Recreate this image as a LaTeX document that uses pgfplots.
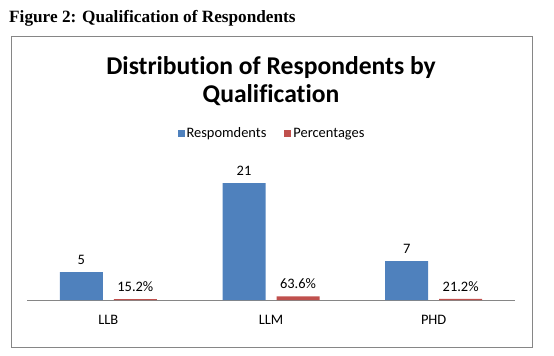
\documentclass[border=0pt]{standalone}
\usepackage{pgfplots}
\pgfplotsset{compat=1.18}
\usepackage{fontspec}
\setmainfont{Carlito}[Ligatures=NoCommon]
\newfontfamily\capfont{Liberation Serif}
\definecolor{cblue}{HTML}{4F81BD}
\definecolor{cred}{HTML}{C0504D}
\definecolor{frame}{HTML}{868686}
\begin{document}
\begin{tikzpicture}[x=1bp,y=1bp]
\useasboundingbox (0,0) rectangle (554,355);
\node[anchor=base west,inner sep=0pt,font=\capfont\bfseries\fontsize{17.3}{19}\selectfont] at (9,333) {Figure 2: Qualification of Respondents};
\draw[frame,line width=1bp] (11,8) rectangle (532,319);
\node[anchor=base,inner sep=0pt,font=\bfseries\fontsize{25.7}{30}\selectfont] at (271,281) {Distribution of Respondents by};
\node[anchor=base,inner sep=0pt,font=\bfseries\fontsize{25.7}{30}\selectfont] at (271,253) {Qualification};
\begin{axis}[
  at={(27bp,55bp)}, anchor=south west,
  scale only axis, width=488bp, height=139bp,
  xmin=-0.5, xmax=2.5, ymin=0, ymax=25,
  axis y line=none,
  axis x line*=bottom,
  x axis line style={frame, line width=0.8bp, -},
  xtick=data, xticklabels={LLB,LLM,PHD},
  major tick length=0pt,
  xticklabel style={font=\fontsize{14.5}{16}\selectfont, yshift=-12bp},
  ybar, bar width=43bp,
  point meta=explicit symbolic,
  nodes near coords,
  nodes near coords style={font=\fontsize{14.5}{16}\selectfont, black, yshift=4bp},
  legend columns=2,
  legend style={draw=none, fill=none, at={(0.502,1.2)}, anchor=center,
    font=\fontsize{14.5}{16}\selectfont, /tikz/every even column/.append style={column sep=16bp}},
  legend image code/.code={\fill[#1] (0bp,-3.5bp) rectangle (7bp,3.5bp);},
  clip=false,
]
\addplot[fill=cblue, draw=none, bar shift=-27bp] coordinates {(0,5) [5] (1,21) [21] (2,7) [7]};
\addlegendentry{Respomdents}
\addplot[fill=cred, draw=none, bar shift=27bp] coordinates {(0,0.152) [15.2\%] (1,0.636) [63.6\%] (2,0.212) [21.2\%]};
\addlegendentry{Percentages}
\end{axis}
\end{tikzpicture}
\end{document}
